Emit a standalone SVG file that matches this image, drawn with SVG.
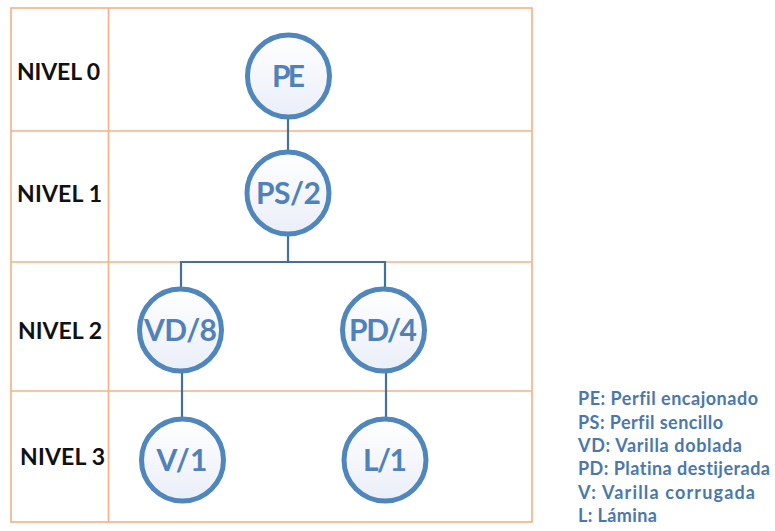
<svg xmlns="http://www.w3.org/2000/svg" width="775" height="531" viewBox="0 0 775 531">
<style>
.grid{stroke:#f6b083;stroke-width:1.6;fill:none}
.lvl{font-family:Lato,"Liberation Sans",Arial,sans-serif;font-weight:bold;font-size:23px;fill:#111}
.node circle{fill:url(#g);stroke:#4f86bb;stroke-width:5}
.node text{font-family:Lato,"Liberation Sans",Arial,sans-serif;font-weight:bold;font-size:30px;fill:#4f81ba;text-anchor:middle}
.conn{stroke:#41719c;stroke-width:2.2;fill:none}
.leg{font-family:Lato,"Liberation Sans",Arial,sans-serif;font-weight:bold;font-size:18px;fill:#4a78ac;font-variant-ligatures:none}
</style>
<defs>
<linearGradient id="g" x1="0" y1="0" x2="0" y2="1">
<stop offset="0" stop-color="#ffffff"/>
<stop offset="1" stop-color="#eaeef8"/>
</linearGradient>
</defs>
<rect width="775" height="531" fill="#fff"/>
<g id="table">
<rect class="grid" x="11" y="8" width="521" height="514"/>
<line class="grid" x1="108.5" y1="8" x2="108.5" y2="522"/>
<line class="grid" x1="11" y1="131" x2="532" y2="131"/>
<line class="grid" x1="11" y1="262" x2="532" y2="262"/>
<line class="grid" x1="11" y1="391" x2="532" y2="391"/>
<text class="lvl" x="17" y="80" textLength="83">NIVEL 0</text>
<text class="lvl" x="17" y="202" textLength="85">NIVEL 1</text>
<text class="lvl" x="18" y="339" textLength="84">NIVEL 2</text>
<text class="lvl" x="20" y="465" textLength="85">NIVEL 3</text>
</g>
<g id="connectors">
<line class="conn" x1="288" y1="118" x2="288" y2="151"/>
<polyline class="conn" points="288,235 288,262"/>
<polyline class="conn" points="181,288 181,262 385,262 385,288"/>
<line class="conn" x1="182" y1="372" x2="182" y2="418"/>
<line class="conn" x1="386" y1="372" x2="386" y2="418"/>
</g>
<g id="PE" class="node"><circle cx="288.5" cy="76" r="41"/><text x="288.5" y="87" textLength="33">PE</text></g>
<g id="PS2" class="node"><circle cx="288" cy="193" r="41"/><text x="288.5" y="204" textLength="65">PS/2</text></g>
<g id="VD8" class="node"><circle cx="180.5" cy="330" r="41"/><text x="180.5" y="341" textLength="73">VD/8</text></g>
<g id="PD4" class="node"><circle cx="383.5" cy="330" r="41"/><text x="383" y="341" textLength="68">PD/4</text></g>
<g id="V1" class="node"><circle cx="182.5" cy="460" r="41"/><text x="182" y="471" textLength="51">V/1</text></g>
<g id="L1" class="node"><circle cx="385" cy="460" r="41"/><text x="385" y="471" textLength="44">L/1</text></g>
<g id="legend">
<text class="leg" x="578" y="405" textLength="180">PE: Perfil encajonado</text>
<text class="leg" x="578" y="428.5" textLength="145">PS: Perfil sencillo</text>
<text class="leg" x="578" y="452" textLength="164">VD: Varilla doblada</text>
<text class="leg" x="578" y="475" textLength="192">PD: Platina destijerada</text>
<text class="leg" x="578" y="498.5" textLength="177">V: Varilla corrugada</text>
<text class="leg" x="578" y="522" textLength="79">L: Lámina</text>
</g>
</svg>
